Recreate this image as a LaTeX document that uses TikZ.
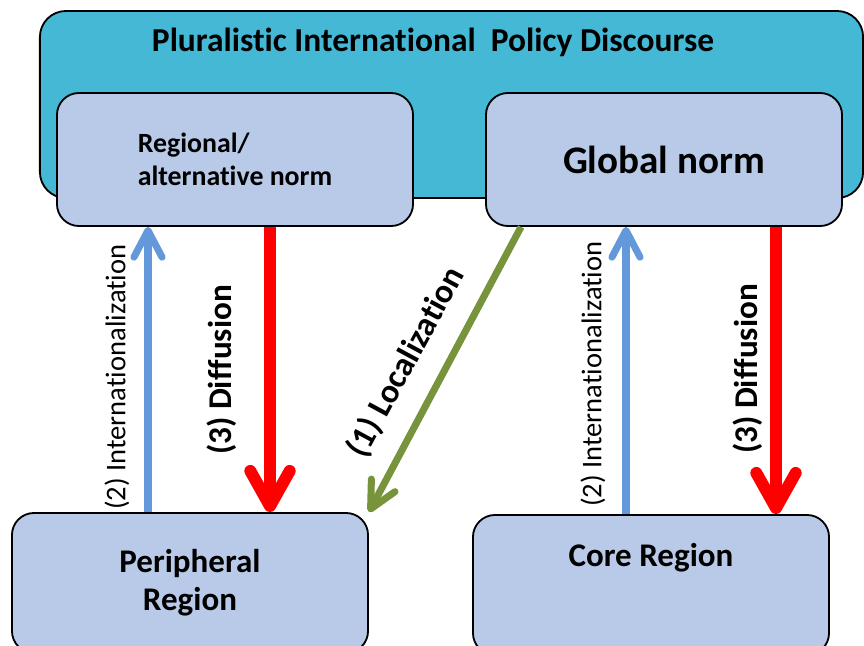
\documentclass[tikz,border=0pt]{standalone}
\usepackage{fontspec}
\setmainfont{Carlito}[Ligatures={NoCommon,NoContextual}, Contextuals=NoAlternate]
\usetikzlibrary{arrows.meta}
\usetikzlibrary{calc}
\usetikzlibrary{positioning}

\definecolor{discteal}{HTML}{45B8D6}
\definecolor{normfill}{HTML}{B8CAE8}
\definecolor{intblue}{HTML}{6398DA}
\definecolor{difred}{HTML}{FF0000}
\definecolor{locgreen}{HTML}{77933C}

\begin{document}
\begin{tikzpicture}[x=0.025cm, y=-0.025cm,
    normbox/.style={draw=black, line width=1.3pt, fill=normfill, rounded corners=0.55cm,
      minimum width=8.9cm, minimum height=3.325cm, inner sep=0pt, align=center},
    intarrow/.style={draw=intblue, line width=5pt,
      -{Straight Barb[length=19pt, width=20pt, line cap=round, line join=round]}},
    difarrow/.style={draw=difred, line width=8.5pt,
      -{Straight Barb[length=25pt, width=28pt, line cap=round, line join=round]}},
    locarrow/.style={draw=locgreen, line width=5pt,
      -{Straight Barb[length=19pt, width=19pt, line cap=round, line join=round]}},
    intlabel/.style={rotate=90, font=\fontsize{20.3}{24}\selectfont},
    diflabel/.style={rotate=90, font=\fontsize{23.6}{28}\selectfont\bfseries}]

    \clip (0, 0) rectangle (864, 646);

    % policy discourse frame
    \node [draw=black, line width=1.3pt, fill=discteal, rounded corners=0.65cm,
      minimum width=20.575cm, minimum height=4.675cm] (disc) at (451.5, 104.5) {};
    \node [font=\fontsize{23.8}{28}\selectfont\bfseries] (title) at (433, 42)
      {Pluralistic International\ \ Policy Discourse};

    % norms
    \node [normbox, align=left, font=\fontsize{19.8}{23.5}\selectfont\bfseries] (reg) at (235, 159.5)
      {Regional/\\alternative norm};
    \node [normbox, font=\fontsize{27.8}{33}\selectfont\bfseries] (glob) at (664, 159.5) {Global norm};

    % regions
    \node [normbox, minimum height=3.5cm, font=\fontsize{23.5}{27}\selectfont\bfseries] (per) at (190, 583)
      {Peripheral\\Region};
    \node [normbox, minimum height=3.5cm] (core) at (651, 585) {};
    \node [font=\fontsize{23.5}{27}\selectfont\bfseries] (coretxt) at ([yshift=-1.1cm]core.north) {Core Region};

    \coordinate (xintL) at (148, 0);
    \coordinate (xdifL) at (270, 0);
    \coordinate (xintR) at (626, 0);
    \coordinate (xdifR) at (776, 0);

    \draw [intarrow] (per.north -| xintL) -- (reg.south -| xintL);
    \draw [difarrow] (reg.south -| xdifL) -- (per.north -| xdifL);
    \draw [locarrow] ($(glob.south west)+(36, 0)$) -- (per.north east);
    \draw [intarrow] (core.north -| xintR) -- (glob.south -| xintR);
    \draw [difarrow] (glob.south -| xdifR) -- (core.north -| xdifR);

    \node [intlabel] (intL) at (117, 377) {(2) Internationalization};
    \node [diflabel] (difL) at (222, 370) {(3) Diffusion};
    \node [rotate=61.6, font=\fontsize{24}{28}\selectfont\bfseries] (loc) at (406, 362) {(1) Localization};
    \node [intlabel] (intR) at (593, 374) {(2) Internationalization};
    \node [diflabel] (difR) at (748, 369) {(3) Diffusion};

\end{tikzpicture}
\end{document}
